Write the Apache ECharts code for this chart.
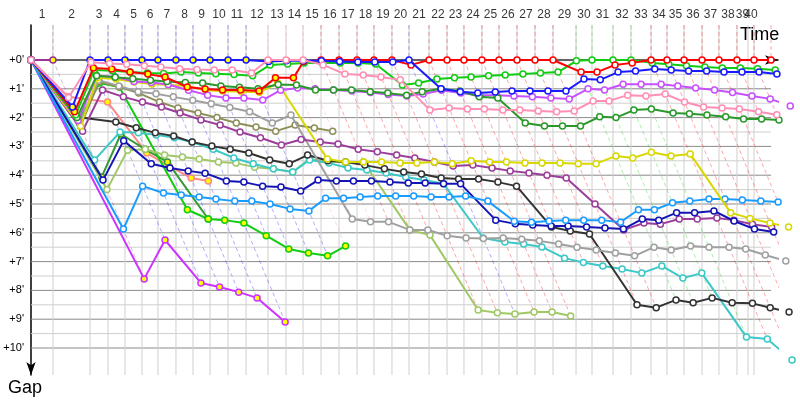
<!DOCTYPE html>
<html>
<head>
<meta charset="utf-8">
<script src="https://cdn.jsdelivr.net/npm/echarts@6/dist/echarts.min.js"></script>
<style>
  html, body { margin: 0; padding: 0; background: #fff; }
  #chart { width: 800px; height: 400px; }
</style>
</head>
<body>
<div id="chart"></div>
<script>
// leader clock time (minutes) at the end of each lap, index 0 = start
var lapTimes = [0, 1.83, 4.92, 6.42, 7.83, 9.25, 10.58, 12.08, 13.5, 14.92, 16.42, 17.92, 19.75, 21.25,
  22.67, 24.17, 25.67, 27.17, 28.58, 30.08, 31.5, 33.17, 34.67, 36.08, 37.58, 39.0, 40.5, 42.0, 43.5,
  45.42, 46.75, 48.5, 50.0, 51.67, 53.0, 54.42, 55.92, 57.33, 58.83, 60.25, 61.67];
// vertical grid lines (lap boundaries shown on the time axis)
var gridTimes = [0, 1.83, 4.92, 6.42, 7.83, 9.25, 10.58, 12.08, 13.5, 14.92, 16.42, 17.92, 19.75, 21.25,
  22.67, 24.17, 25.67, 27.17, 28.58, 30.08, 31.5, 33.17, 34.67, 36.08, 37.58, 39.0, 40.5, 42.0, 43.5,
  45.42, 46.75, 48.5, 50.0, 51.67, 53.0, 54.42, 55.92, 57.33, 58.83, 59.75, 60.25];
var lapLabels = [];
for (var i = 1; i <= 40; i++) lapLabels.push(String(i));
var gapTicks = [0, 1, 2, 3, 4, 5, 6, 7, 8, 9, 10];
var gapMinor = [0.5, 1.5, 2.5, 3.5, 4.5, 5.5, 6.5, 7.5, 8.5, 9.5];

// gap to the leader (minutes) at the end of each lap, from lap 0
var red = [0, 1.8, .28, .31, .42, .49, .59, .94, 1.01, 1.04, 1.04, 1.08, .62, .62, .05, 0, 0, 0, 0, 0, .17,
  0, 0, 0, 0, 0, 0, 0, 0, .42, .42, .17, .1, 0, 0, 0, 0, 0, 0, 0, 0];
var blue = [0, 1.63, 0, 0, 0, 0, 0, 0, 0, 0, 0, 0, .05, .03, .03, .03, .05, .07, .07, .07, 0,
  1.0, 1.1, 1.15, 1.11, 1.08, 1.08, 1.08, 1.08, .66, .69, .42, .38, .31, .35, .38, .38, .42, .42, .42, .49];
var pink = [0, 1.3, .08, .12, .15, .2, .24, .3, .33, .35, .35, .45, 0, 0, 0, .17, .49, .52, .59, .69,
  1.74, 1.67, 1.7, 1.7, 1.74, 1.74, 1.77, 1.8, 1.77, 1.42, 1.42, 1.22, 1.25, 1.18, 1.46, 1.63, 1.67, 1.7, 1.8, 1.9];
var green = [0, 1.9, .35, .37, .42, .45, .47, .42, .45, .48, .5, .55, .17, .14, .1, .1, .1, .1, .14,
  .87, .8, .66, .62, .59, .55, .52, .49, .45, .42, .03, 0, 0, 0, .1, .15, .2, .24, .28, .28, .3, .35];
var darkGreen = [0, 2.0, .55, .6, .65, .7, .75, .78, .8, .9, .95, 1.0, .85, .87, 1.04, 1.04, 1.04, 1.1, 1.15,
  1.22, 1.1, 1.0, 1.08, 1.28, 1.32, 2.19, 2.29, 2.29, 2.29, 1.97, 2.0, 1.74, 1.7, 1.84, 1.87, 1.91, 1.97, 2.05, 2.05, 2.08];
var violet = [0, 2.1, .55, .58, .75, .78, .85, 1.05, 1.22, 1.32, 1.32, 1.39, 1.05, .97, 1.0, 1.04, 1.08, 1.13,
  1.2, 1.25, 1.18, 1.05, 1.15, 1.22, 1.22, 1.25, 1.28, 1.32, 1.35, 1.0, 1.04, .84, .84, .84, .9, .97, 1.04, 1.13, 1.25, 1.35, 1.6];
var yellow = [0, 2.3, .62, .66, .76, .83, .87, .9, 1.05, 1.08, 1.1, 1.12, .8, 3.44, 3.54, 3.54, 3.54, 3.58, 3.58,
  3.54, 3.6, 3.5, 3.54, 3.54, 3.58, 3.58, 3.58, 3.6, 3.6, 3.33, 3.4, 3.2, 3.33, 3.26, 5.3, 5.5, 5.66, 5.8];
var lightBlue = [0, 5.87, 4.38, 4.62, 4.69, 4.76, 4.83, 4.9, 4.9, 5.0, 5.17, 5.24, 4.8, 4.8, 4.76, 4.72, 4.72, 4.72,
  4.76, 4.76, 4.72, 4.9, 5.6, 5.63, 5.59, 5.56, 5.56, 5.56, 5.63, 5.2, 5.2, 4.96, 4.9, 4.83, 4.83, 4.86, 4.9, 4.93];
var navy = [0, 4.17, 2.8, 3.6, 3.75, 3.85, 3.93, 4.2, 4.24, 4.38, 4.41, 4.55, 4.17, 4.2, 4.2, 4.2, 4.24, 4.27, 4.27,
  4.3, 4.3, 5.56, 5.69, 5.73, 5.76, 5.76, 5.8, 5.83, 5.87, 5.52, 5.56, 5.3, 5.3, 5.24, 5.59, 5.87, 5.97];
var purple = [0, 2.47, 1.04, 1.28, 1.46, 1.63, 1.84, 2.08, 2.26, 2.5, 2.7, 2.95, 2.76, 2.85, 2.92, 3.1, 3.19, 3.3,
  3.4, 3.54, 3.68, 3.65, 3.75, 3.85, 3.92, 4.0, 4.1, 5.0, 5.9, 5.66, 5.7, 5.52, 5.52, 5.49, 5.56, 5.7, 5.8];
var gray = [0, 2.2, .7, .9, 1.1, 1.17, 1.28, 1.4, 1.52, 1.65, 1.8, 2.19, 1.91, 5.52, 5.62, 5.62, 5.9, 5.9, 6.1,
  6.18, 6.2, 6.18, 6.22, 6.28, 6.39, 6.5, 6.6, 6.7, 6.8, 6.5, 6.6, 6.46, 6.5, 6.5, 6.56, 6.77, 6.98];
var black = [0, 1.98, 2.15, 2.35, 2.53, 2.64, 2.85, 2.99, 3.1, 3.23, 3.47, 3.6, 3.3, 3.5, 3.54, 3.65, 3.78, 3.89,
  3.96, 4.1, 4.13, 4.13, 4.24, 4.38, 5.8, 5.94, 6.04, 8.5, 8.6, 8.33, 8.43, 8.26, 8.43, 8.45, 8.6, 8.75];
var cyan = [0, 3.47, 2.5, 2.53, 2.6, 2.7, 2.85, 3.1, 3.4, 3.6, 3.78, 3.89, 3.47, 3.58, 3.75, 3.82, 3.92, 4.06,
  4.17, 4.3, 6.18, 6.32, 6.39, 6.49, 6.88, 7.03, 7.15, 7.26, 7.4, 7.15, 7.57, 7.4, 9.62, 9.69, 10.42];
var olive = [0, 2.3, .75, .94, 1.15, 1.46, 1.67, 1.84, 2.0, 2.19, 2.33, 2.47, 2.26, 2.36, 2.47];
var lightGreen = [0, 4.5, 3.13, 3.1, 3.3, 3.37, 3.44, 3.54, 3.58, 3.72, 3.78, 3.89, 3.44, 3.54, 3.54, 3.54,
  5.9, 6.08, 8.68, 8.78, 8.82, 8.75, 8.75, 8.89];
var greenB = [0, 2.12, .8, .94, 5.2, 5.52, 5.56, 5.66, 6.1, 6.56, 6.7, 6.8, 6.46];
var darkGreenB = [0, 4.06, 2.57, 3.1, 3.54, 5.52];
var salmon = [0, 1.28, 1.46, 3.23, 3.68, 4.1, 4.2];
var magenta = [0, 7.6, 6.25, 7.74, 7.88, 8.06, 8.26, 9.1];
var plum = [0, 0];

// who leads each lap (1..40): colours the lap lines
var lapLeader = ['plum', 'blue', 'blue', 'blue', 'blue', 'blue', 'blue', 'blue', 'blue', 'blue', 'blue',
  'pink', 'pink', 'pink', 'red', 'red', 'red', 'red', 'red', 'blue',
  'red', 'red', 'red', 'red', 'red', 'red', 'red', 'red', 'green', 'green', 'green', 'green',
  'red', 'red', 'red', 'red', 'red', 'red', 'red', 'red'];

// drawing order: first is at the bottom
var drivers = [
  { key: 'plum', gaps: plum, color: '#993399', yellow: [0, 1] },
  { key: 'magenta', gaps: magenta, color: '#cc33ff', yellow: [0, 7] },
  { key: 'salmon', gaps: salmon, color: '#ff8888', yellow: [0, 6] },
  { key: 'darkGreenB', gaps: darkGreenB, color: '#339933', yellow: [0, 5] },
  { key: 'greenB', gaps: greenB, color: '#11cc11', yellow: [0, 12] },
  { key: 'lightGreen', gaps: lightGreen, color: '#a0c864' },
  { key: 'olive', gaps: olive, color: '#8e8e5a' },
  { key: 'cyan', gaps: cyan, color: '#3cc8c8' },
  { key: 'black', gaps: black, color: '#333333' },
  { key: 'gray', gaps: gray, color: '#a0a0a0' },
  { key: 'purple', gaps: purple, color: '#9b3d9b' },
  { key: 'navy', gaps: navy, color: '#1414b4' },
  { key: 'lightBlue', gaps: lightBlue, color: '#1a9cff' },
  { key: 'yellow', gaps: yellow, color: '#d8d800' },
  { key: 'violet', gaps: violet, color: '#c850ff' },
  { key: 'darkGreen', gaps: darkGreen, color: '#2a982a' },
  { key: 'green', gaps: green, color: '#11cc11' },
  { key: 'red', gaps: red, color: '#ff0000', yellow: [0, 13] },
  { key: 'blue', gaps: blue, color: '#1a1aff', yellow: [0, 11] },
  { key: 'pink', gaps: pink, color: '#ff8fb4' }
];

var yTop = -35 / 28.8, yBottom = 315 / 28.8, xEnd = 62.25;
var colorOf = {};
drivers.forEach(function (d) { colorOf[d.key] = d.color; });

var series = [];
function seg(data, color, width, type, z) {
  series.push({
    type: 'line', data: data, symbol: 'none', silent: true, clip: false, z: z,
    lineStyle: { color: color, width: width, type: type }
  });
}
// horizontal grid
gapMinor.forEach(function (g) { seg([[0, g], [lapTimes[40], g]], '#cfcfcf', 1, 'solid', 0); });
gapTicks.forEach(function (g) { seg([[0, g], [lapTimes[40], g]], '#8a8a8a', 1, 'solid', 0); });
// vertical grid
gridTimes.slice(1).forEach(function (t) { seg([[t, yTop], [t, yBottom]], '#cfcfcf', 1, 'solid', 0); });
// lap lines: from the leader down to the last car on that lap
for (var k = 1; k <= 40; k++) {
  var gmax = 0;
  drivers.forEach(function (d) { if (d.gaps.length > k && d.gaps[k] > gmax) gmax = d.gaps[k]; });
  var c = echarts.color.modifyAlpha(colorOf[lapLeader[k - 1]], 0.35);
  seg([[lapTimes[k], yTop], [lapTimes[k], 0], [lapTimes[k] + gmax, gmax]], c, 1, [4, 3], 1);
}
// drivers
drivers.forEach(function (d, n) {
  series.push({
    type: 'line', name: d.key, z: 2 + n * 0.01, clip: false, silent: true,
    symbol: 'circle', symbolSize: 6, showAllSymbol: true,
    lineStyle: { color: d.color, width: 2 },
    itemStyle: { color: '#ffffff', borderColor: d.color, borderWidth: 1.5 },
    data: d.gaps.map(function (g, k) {
      var y = d.yellow && k >= d.yellow[0] && k <= d.yellow[1];
      return { value: [lapTimes[k] + g, g], itemStyle: { color: y ? '#ffff00' : '#ffffff' } };
    })
  });
});

// lap numbers, centred in each lap slot above the time axis
var labelData = [];
for (var j = 0; j < 40; j++) labelData.push([(gridTimes[j] + gridTimes[j + 1]) / 2, yTop, lapLabels[j]]);
series.push({
  type: 'scatter', data: labelData, symbolSize: 0, clip: false, silent: true, z: 10,
  label: {
    show: true, position: 'top', distance: 4, fontSize: 12, color: '#000', fontFamily: 'Liberation Sans',
    formatter: function (p) { return p.value[2]; }
  }
});

var chart = echarts.init(document.getElementById('chart'));
chart.setOption({
  animation: false,
  backgroundColor: '#fff',
  grid: { left: 31, right: 22, top: 25, bottom: 25 },
  graphic: [{
    type: 'text', left: 740, top: 26,
    style: { text: 'Time', fontSize: 18, fill: '#000', fontFamily: 'Liberation Sans' }
  }],
  xAxis: {
    type: 'value', position: 'top', min: 0, max: xEnd,
    axisLine: { lineStyle: { color: '#000', width: 1.5 }, symbol: ['none', 'arrow'], symbolSize: [7, 13] },
    axisTick: { show: false },
    splitLine: { show: false },
    axisLabel: { show: false }
  },
  yAxis: {
    type: 'value', inverse: true, min: yTop, max: yBottom,
    name: 'Gap', nameLocation: 'end', nameGap: 4,
    nameTextStyle: { fontSize: 18, color: '#000', fontFamily: 'Liberation Sans', verticalAlign: 'top', padding: [0, 12, 0, 0] },
    axisLine: { lineStyle: { color: '#000', width: 1.5 }, symbol: ['arrow', 'none'], symbolSize: [7, 13] },
    axisTick: { show: false },
    splitLine: { show: false },
    axisLabel: {
      customValues: gapTicks, margin: 7, fontSize: 11, color: '#000', fontFamily: 'Liberation Sans',
      formatter: function (v) { return '+' + v + "'"; }
    }
  },
  series: series
});
</script>
</body>
</html>
